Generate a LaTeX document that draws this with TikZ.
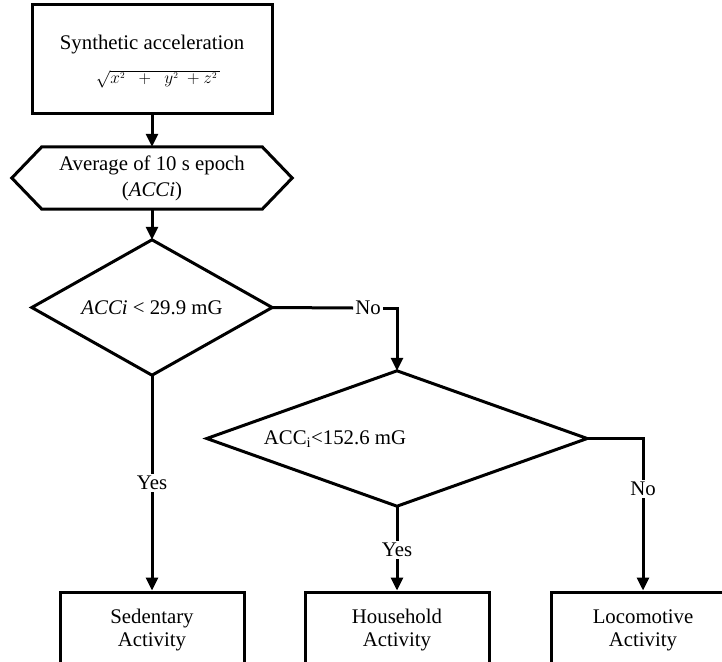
\documentclass[tikz,border=0pt]{standalone}
\usepackage{fontspec}
\setmainfont{Liberation Serif}
\usetikzlibrary{arrows.meta}
\begin{document}
\begin{tikzpicture}[x=1pt,y=-1pt,
  every node/.style={font=\fontsize{20.8}{23}\selectfont, inner sep=0pt},
  ln/.style={line width=3pt},
  arr/.style={ln,-{Triangle[length=13pt,width=12pt]}},
  box/.style={draw,line width=3pt,rectangle,align=center},
  lbl/.style={inner sep=2pt}]
\clip (0,0) rectangle (722,661);
% top box
\node[box,minimum width=240pt,minimum height=108pt] (top) at (152,59) {};
\node (ttl) at (152,45) {Synthetic acceleration};
\node (frm) at (158,79) {\fontsize{19}{21}\selectfont$\sqrt{x^{\scriptscriptstyle 2}\;\;+\;\;y^{\scriptscriptstyle 2}\;+z^{\scriptscriptstyle 2}\,}$};
% hexagon
\node[minimum width=220pt,minimum height=62pt,align=center,font=\fontsize{20.8}{26}\selectfont] (hex) at (152,178)
  {Average of 10 s epoch\\(\textit{ACCi})};
\draw[ln] (hex.north west) -- (hex.north east) -- ([xshift=30pt]hex.east)
  -- (hex.south east) -- (hex.south west) -- ([xshift=-30pt]hex.west) -- cycle;
% diamond 1
\node[minimum width=240pt,minimum height=135pt] (d1) at (152,307.5) {\textit{ACCi} < 29.9 mG};
\draw[ln] (d1.north) -- (d1.east) -- (d1.south) -- (d1.west) -- cycle;
% diamond 2
\node[minimum width=380pt,minimum height=135pt] (d2) at (397,438.5) {};
\draw[ln] (d2.north) -- (d2.east) -- (d2.south) -- (d2.west) -- cycle;
\node (t2) at (335,439) {ACC\textsubscript{i}<152.6 mG};
% bottom boxes
\node[box,minimum width=184pt,minimum height=76pt] (sed) at (152,630) {Sedentary\\Activity};
\node[box,minimum width=184pt,minimum height=76pt] (house) at (397,630) {Household\\Activity};
\node[box,minimum width=184pt,minimum height=76pt] (loco) at (643,630) {Locomotive\\Activity};
% labels
\node[lbl] (no1) at (368,308) {No};
\node[lbl] (yes1) at (152,483) {Yes};
\node[lbl] (yes2) at (397,550) {Yes};
\node[lbl] (no2) at (643,489) {No};
% connectors
\draw[arr] (top.south) -- (hex.north);
\draw[arr] (hex.south) -- (d1.north);
\draw[ln] (d1.east) -- (no1.west);
\draw[arr] (no1.east) -| (d2.north);
\draw[ln] (d1.south) -- (yes1.north);
\draw[arr] (yes1.south) -- (sed.north);
\draw[ln] (d2.south) -- (yes2.north);
\draw[arr] (yes2.south) -- (house.north);
\draw[ln] (d2.east) -| (no2.north);
\draw[arr] (no2.south) -- (loco.north);
\end{tikzpicture}
\end{document}
